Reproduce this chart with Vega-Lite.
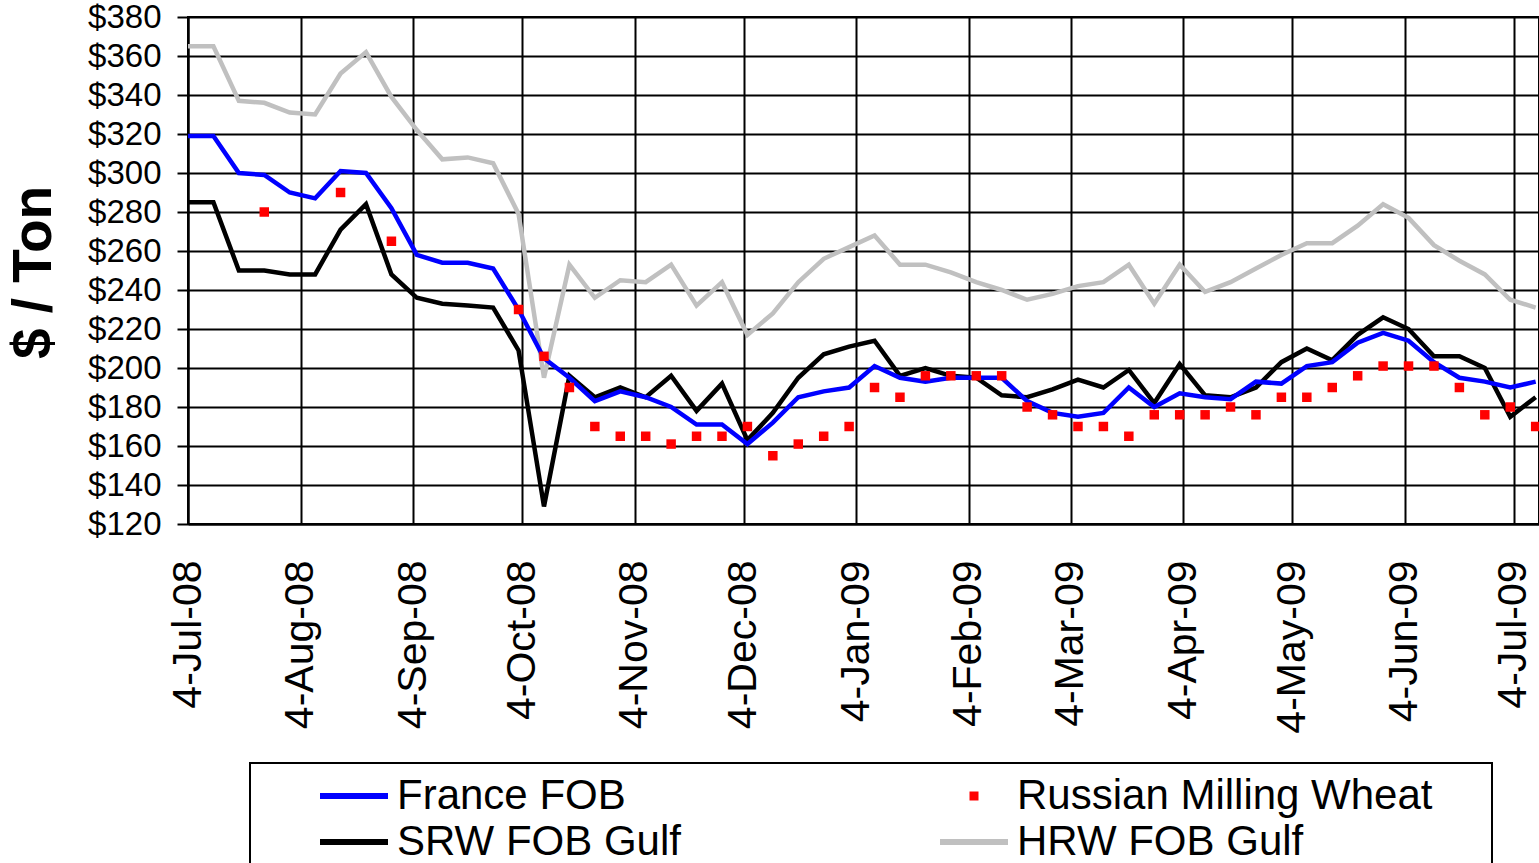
{
  "$schema": "https://vega.github.io/schema/vega-lite/v6.json",
  "width": 1351,
  "height": 507,
  "autosize": {"type": "none"},
  "padding": {"left": 188, "top": 17, "right": 0, "bottom": 339},
  "background": "white",
  "config": {
    "font": "Liberation Sans",
    "view": {"stroke": "black", "strokeWidth": 2}
  },
  "data": {
    "values": [
      {"date": "2008-07-04", "series": "HRW FOB Gulf", "price": 365},
      {"date": "2008-07-11", "series": "HRW FOB Gulf", "price": 365},
      {"date": "2008-07-18", "series": "HRW FOB Gulf", "price": 337},
      {"date": "2008-07-25", "series": "HRW FOB Gulf", "price": 336},
      {"date": "2008-08-01", "series": "HRW FOB Gulf", "price": 331},
      {"date": "2008-08-08", "series": "HRW FOB Gulf", "price": 330},
      {"date": "2008-08-15", "series": "HRW FOB Gulf", "price": 351},
      {"date": "2008-08-22", "series": "HRW FOB Gulf", "price": 362},
      {"date": "2008-08-29", "series": "HRW FOB Gulf", "price": 339},
      {"date": "2008-09-05", "series": "HRW FOB Gulf", "price": 322},
      {"date": "2008-09-12", "series": "HRW FOB Gulf", "price": 307},
      {"date": "2008-09-19", "series": "HRW FOB Gulf", "price": 308},
      {"date": "2008-09-26", "series": "HRW FOB Gulf", "price": 305},
      {"date": "2008-10-03", "series": "HRW FOB Gulf", "price": 279},
      {"date": "2008-10-10", "series": "HRW FOB Gulf", "price": 195},
      {"date": "2008-10-17", "series": "HRW FOB Gulf", "price": 253},
      {"date": "2008-10-24", "series": "HRW FOB Gulf", "price": 236},
      {"date": "2008-10-31", "series": "HRW FOB Gulf", "price": 245},
      {"date": "2008-11-07", "series": "HRW FOB Gulf", "price": 244},
      {"date": "2008-11-14", "series": "HRW FOB Gulf", "price": 253},
      {"date": "2008-11-21", "series": "HRW FOB Gulf", "price": 232},
      {"date": "2008-11-28", "series": "HRW FOB Gulf", "price": 244},
      {"date": "2008-12-05", "series": "HRW FOB Gulf", "price": 217},
      {"date": "2008-12-12", "series": "HRW FOB Gulf", "price": 228},
      {"date": "2008-12-19", "series": "HRW FOB Gulf", "price": 244},
      {"date": "2008-12-26", "series": "HRW FOB Gulf", "price": 256},
      {"date": "2009-01-02", "series": "HRW FOB Gulf", "price": 262},
      {"date": "2009-01-09", "series": "HRW FOB Gulf", "price": 268},
      {"date": "2009-01-16", "series": "HRW FOB Gulf", "price": 253},
      {"date": "2009-01-23", "series": "HRW FOB Gulf", "price": 253},
      {"date": "2009-01-30", "series": "HRW FOB Gulf", "price": 249},
      {"date": "2009-02-06", "series": "HRW FOB Gulf", "price": 244},
      {"date": "2009-02-13", "series": "HRW FOB Gulf", "price": 240},
      {"date": "2009-02-20", "series": "HRW FOB Gulf", "price": 235},
      {"date": "2009-02-27", "series": "HRW FOB Gulf", "price": 238},
      {"date": "2009-03-06", "series": "HRW FOB Gulf", "price": 242},
      {"date": "2009-03-13", "series": "HRW FOB Gulf", "price": 244},
      {"date": "2009-03-20", "series": "HRW FOB Gulf", "price": 253},
      {"date": "2009-03-27", "series": "HRW FOB Gulf", "price": 233},
      {"date": "2009-04-03", "series": "HRW FOB Gulf", "price": 253},
      {"date": "2009-04-10", "series": "HRW FOB Gulf", "price": 239},
      {"date": "2009-04-17", "series": "HRW FOB Gulf", "price": 244},
      {"date": "2009-04-24", "series": "HRW FOB Gulf", "price": 251},
      {"date": "2009-05-01", "series": "HRW FOB Gulf", "price": 258},
      {"date": "2009-05-08", "series": "HRW FOB Gulf", "price": 264},
      {"date": "2009-05-15", "series": "HRW FOB Gulf", "price": 264},
      {"date": "2009-05-22", "series": "HRW FOB Gulf", "price": 273},
      {"date": "2009-05-29", "series": "HRW FOB Gulf", "price": 284},
      {"date": "2009-06-05", "series": "HRW FOB Gulf", "price": 277},
      {"date": "2009-06-12", "series": "HRW FOB Gulf", "price": 263},
      {"date": "2009-06-19", "series": "HRW FOB Gulf", "price": 255},
      {"date": "2009-06-26", "series": "HRW FOB Gulf", "price": 248},
      {"date": "2009-07-03", "series": "HRW FOB Gulf", "price": 235},
      {"date": "2009-07-10", "series": "HRW FOB Gulf", "price": 231},

      {"date": "2008-07-04", "series": "SRW FOB Gulf", "price": 285},
      {"date": "2008-07-11", "series": "SRW FOB Gulf", "price": 285},
      {"date": "2008-07-18", "series": "SRW FOB Gulf", "price": 250},
      {"date": "2008-07-25", "series": "SRW FOB Gulf", "price": 250},
      {"date": "2008-08-01", "series": "SRW FOB Gulf", "price": 248},
      {"date": "2008-08-08", "series": "SRW FOB Gulf", "price": 248},
      {"date": "2008-08-15", "series": "SRW FOB Gulf", "price": 271},
      {"date": "2008-08-22", "series": "SRW FOB Gulf", "price": 284},
      {"date": "2008-08-29", "series": "SRW FOB Gulf", "price": 248},
      {"date": "2008-09-05", "series": "SRW FOB Gulf", "price": 236},
      {"date": "2008-09-12", "series": "SRW FOB Gulf", "price": 233},
      {"date": "2008-09-19", "series": "SRW FOB Gulf", "price": 232},
      {"date": "2008-09-26", "series": "SRW FOB Gulf", "price": 231},
      {"date": "2008-10-03", "series": "SRW FOB Gulf", "price": 209},
      {"date": "2008-10-10", "series": "SRW FOB Gulf", "price": 129},
      {"date": "2008-10-17", "series": "SRW FOB Gulf", "price": 196},
      {"date": "2008-10-24", "series": "SRW FOB Gulf", "price": 185},
      {"date": "2008-10-31", "series": "SRW FOB Gulf", "price": 190},
      {"date": "2008-11-07", "series": "SRW FOB Gulf", "price": 185},
      {"date": "2008-11-14", "series": "SRW FOB Gulf", "price": 196},
      {"date": "2008-11-21", "series": "SRW FOB Gulf", "price": 178},
      {"date": "2008-11-28", "series": "SRW FOB Gulf", "price": 192},
      {"date": "2008-12-05", "series": "SRW FOB Gulf", "price": 163},
      {"date": "2008-12-12", "series": "SRW FOB Gulf", "price": 177},
      {"date": "2008-12-19", "series": "SRW FOB Gulf", "price": 195},
      {"date": "2008-12-26", "series": "SRW FOB Gulf", "price": 207},
      {"date": "2009-01-02", "series": "SRW FOB Gulf", "price": 211},
      {"date": "2009-01-09", "series": "SRW FOB Gulf", "price": 214},
      {"date": "2009-01-16", "series": "SRW FOB Gulf", "price": 196},
      {"date": "2009-01-23", "series": "SRW FOB Gulf", "price": 200},
      {"date": "2009-01-30", "series": "SRW FOB Gulf", "price": 196},
      {"date": "2009-02-06", "series": "SRW FOB Gulf", "price": 195},
      {"date": "2009-02-13", "series": "SRW FOB Gulf", "price": 186},
      {"date": "2009-02-20", "series": "SRW FOB Gulf", "price": 185},
      {"date": "2009-02-27", "series": "SRW FOB Gulf", "price": 189},
      {"date": "2009-03-06", "series": "SRW FOB Gulf", "price": 194},
      {"date": "2009-03-13", "series": "SRW FOB Gulf", "price": 190},
      {"date": "2009-03-20", "series": "SRW FOB Gulf", "price": 199},
      {"date": "2009-03-27", "series": "SRW FOB Gulf", "price": 182},
      {"date": "2009-04-03", "series": "SRW FOB Gulf", "price": 202},
      {"date": "2009-04-10", "series": "SRW FOB Gulf", "price": 186},
      {"date": "2009-04-17", "series": "SRW FOB Gulf", "price": 185},
      {"date": "2009-04-24", "series": "SRW FOB Gulf", "price": 190},
      {"date": "2009-05-01", "series": "SRW FOB Gulf", "price": 203},
      {"date": "2009-05-08", "series": "SRW FOB Gulf", "price": 210},
      {"date": "2009-05-15", "series": "SRW FOB Gulf", "price": 204},
      {"date": "2009-05-22", "series": "SRW FOB Gulf", "price": 217},
      {"date": "2009-05-29", "series": "SRW FOB Gulf", "price": 226},
      {"date": "2009-06-05", "series": "SRW FOB Gulf", "price": 220},
      {"date": "2009-06-12", "series": "SRW FOB Gulf", "price": 206},
      {"date": "2009-06-19", "series": "SRW FOB Gulf", "price": 206},
      {"date": "2009-06-26", "series": "SRW FOB Gulf", "price": 200},
      {"date": "2009-07-03", "series": "SRW FOB Gulf", "price": 175},
      {"date": "2009-07-10", "series": "SRW FOB Gulf", "price": 185},

      {"date": "2008-07-04", "series": "France FOB", "price": 319},
      {"date": "2008-07-11", "series": "France FOB", "price": 319},
      {"date": "2008-07-18", "series": "France FOB", "price": 300},
      {"date": "2008-07-25", "series": "France FOB", "price": 299},
      {"date": "2008-08-01", "series": "France FOB", "price": 290},
      {"date": "2008-08-08", "series": "France FOB", "price": 287},
      {"date": "2008-08-15", "series": "France FOB", "price": 301},
      {"date": "2008-08-22", "series": "France FOB", "price": 300},
      {"date": "2008-08-29", "series": "France FOB", "price": 282},
      {"date": "2008-09-05", "series": "France FOB", "price": 258},
      {"date": "2008-09-12", "series": "France FOB", "price": 254},
      {"date": "2008-09-19", "series": "France FOB", "price": 254},
      {"date": "2008-09-26", "series": "France FOB", "price": 251},
      {"date": "2008-10-03", "series": "France FOB", "price": 230},
      {"date": "2008-10-10", "series": "France FOB", "price": 205},
      {"date": "2008-10-17", "series": "France FOB", "price": 195},
      {"date": "2008-10-24", "series": "France FOB", "price": 183},
      {"date": "2008-10-31", "series": "France FOB", "price": 188},
      {"date": "2008-11-07", "series": "France FOB", "price": 185},
      {"date": "2008-11-14", "series": "France FOB", "price": 180},
      {"date": "2008-11-21", "series": "France FOB", "price": 171},
      {"date": "2008-11-28", "series": "France FOB", "price": 171},
      {"date": "2008-12-05", "series": "France FOB", "price": 161},
      {"date": "2008-12-12", "series": "France FOB", "price": 172},
      {"date": "2008-12-19", "series": "France FOB", "price": 185},
      {"date": "2008-12-26", "series": "France FOB", "price": 188},
      {"date": "2009-01-02", "series": "France FOB", "price": 190},
      {"date": "2009-01-09", "series": "France FOB", "price": 201},
      {"date": "2009-01-16", "series": "France FOB", "price": 195},
      {"date": "2009-01-23", "series": "France FOB", "price": 193},
      {"date": "2009-01-30", "series": "France FOB", "price": 195},
      {"date": "2009-02-06", "series": "France FOB", "price": 195},
      {"date": "2009-02-13", "series": "France FOB", "price": 195},
      {"date": "2009-02-20", "series": "France FOB", "price": 183},
      {"date": "2009-02-27", "series": "France FOB", "price": 177},
      {"date": "2009-03-06", "series": "France FOB", "price": 175},
      {"date": "2009-03-13", "series": "France FOB", "price": 177},
      {"date": "2009-03-20", "series": "France FOB", "price": 190},
      {"date": "2009-03-27", "series": "France FOB", "price": 180},
      {"date": "2009-04-03", "series": "France FOB", "price": 187},
      {"date": "2009-04-10", "series": "France FOB", "price": 185},
      {"date": "2009-04-17", "series": "France FOB", "price": 184},
      {"date": "2009-04-24", "series": "France FOB", "price": 193},
      {"date": "2009-05-01", "series": "France FOB", "price": 192},
      {"date": "2009-05-08", "series": "France FOB", "price": 201},
      {"date": "2009-05-15", "series": "France FOB", "price": 203},
      {"date": "2009-05-22", "series": "France FOB", "price": 213},
      {"date": "2009-05-29", "series": "France FOB", "price": 218},
      {"date": "2009-06-05", "series": "France FOB", "price": 214},
      {"date": "2009-06-12", "series": "France FOB", "price": 203},
      {"date": "2009-06-19", "series": "France FOB", "price": 195},
      {"date": "2009-06-26", "series": "France FOB", "price": 193},
      {"date": "2009-07-03", "series": "France FOB", "price": 190},
      {"date": "2009-07-10", "series": "France FOB", "price": 193},

      {"date": "2008-07-25", "series": "Russian Milling Wheat", "price": 280},
      {"date": "2008-08-15", "series": "Russian Milling Wheat", "price": 290},
      {"date": "2008-08-29", "series": "Russian Milling Wheat", "price": 265},
      {"date": "2008-10-03", "series": "Russian Milling Wheat", "price": 230},
      {"date": "2008-10-10", "series": "Russian Milling Wheat", "price": 206},
      {"date": "2008-10-17", "series": "Russian Milling Wheat", "price": 190},
      {"date": "2008-10-24", "series": "Russian Milling Wheat", "price": 170},
      {"date": "2008-10-31", "series": "Russian Milling Wheat", "price": 165},
      {"date": "2008-11-07", "series": "Russian Milling Wheat", "price": 165},
      {"date": "2008-11-14", "series": "Russian Milling Wheat", "price": 161},
      {"date": "2008-11-21", "series": "Russian Milling Wheat", "price": 165},
      {"date": "2008-11-28", "series": "Russian Milling Wheat", "price": 165},
      {"date": "2008-12-05", "series": "Russian Milling Wheat", "price": 170},
      {"date": "2008-12-12", "series": "Russian Milling Wheat", "price": 155},
      {"date": "2008-12-19", "series": "Russian Milling Wheat", "price": 161},
      {"date": "2008-12-26", "series": "Russian Milling Wheat", "price": 165},
      {"date": "2009-01-02", "series": "Russian Milling Wheat", "price": 170},
      {"date": "2009-01-09", "series": "Russian Milling Wheat", "price": 190},
      {"date": "2009-01-16", "series": "Russian Milling Wheat", "price": 185},
      {"date": "2009-01-23", "series": "Russian Milling Wheat", "price": 196},
      {"date": "2009-01-30", "series": "Russian Milling Wheat", "price": 196},
      {"date": "2009-02-06", "series": "Russian Milling Wheat", "price": 196},
      {"date": "2009-02-13", "series": "Russian Milling Wheat", "price": 196},
      {"date": "2009-02-20", "series": "Russian Milling Wheat", "price": 180},
      {"date": "2009-02-27", "series": "Russian Milling Wheat", "price": 176},
      {"date": "2009-03-06", "series": "Russian Milling Wheat", "price": 170},
      {"date": "2009-03-13", "series": "Russian Milling Wheat", "price": 170},
      {"date": "2009-03-20", "series": "Russian Milling Wheat", "price": 165},
      {"date": "2009-03-27", "series": "Russian Milling Wheat", "price": 176},
      {"date": "2009-04-03", "series": "Russian Milling Wheat", "price": 176},
      {"date": "2009-04-10", "series": "Russian Milling Wheat", "price": 176},
      {"date": "2009-04-17", "series": "Russian Milling Wheat", "price": 180},
      {"date": "2009-04-24", "series": "Russian Milling Wheat", "price": 176},
      {"date": "2009-05-01", "series": "Russian Milling Wheat", "price": 185},
      {"date": "2009-05-08", "series": "Russian Milling Wheat", "price": 185},
      {"date": "2009-05-15", "series": "Russian Milling Wheat", "price": 190},
      {"date": "2009-05-22", "series": "Russian Milling Wheat", "price": 196},
      {"date": "2009-05-29", "series": "Russian Milling Wheat", "price": 201},
      {"date": "2009-06-05", "series": "Russian Milling Wheat", "price": 201},
      {"date": "2009-06-12", "series": "Russian Milling Wheat", "price": 201},
      {"date": "2009-06-19", "series": "Russian Milling Wheat", "price": 190},
      {"date": "2009-06-26", "series": "Russian Milling Wheat", "price": 176},
      {"date": "2009-07-03", "series": "Russian Milling Wheat", "price": 180},
      {"date": "2009-07-10", "series": "Russian Milling Wheat", "price": 170}
    ]
  },
  "encoding": {
    "x": {
      "field": "date",
      "type": "temporal",
      "scale": {
        "type": "utc",
        "domain": [
          {"year": 2008, "month": 7, "date": 4, "utc": true},
          {"year": 2009, "month": 7, "date": 10, "hours": 22, "utc": true}
        ]
      },
      "axis": {
        "title": null,
        "values": [
          {"year": 2008, "month": 7, "date": 4, "utc": true},
          {"year": 2008, "month": 8, "date": 4, "utc": true},
          {"year": 2008, "month": 9, "date": 4, "utc": true},
          {"year": 2008, "month": 10, "date": 4, "utc": true},
          {"year": 2008, "month": 11, "date": 4, "utc": true},
          {"year": 2008, "month": 12, "date": 4, "utc": true},
          {"year": 2009, "month": 1, "date": 4, "utc": true},
          {"year": 2009, "month": 2, "date": 4, "utc": true},
          {"year": 2009, "month": 3, "date": 4, "utc": true},
          {"year": 2009, "month": 4, "date": 4, "utc": true},
          {"year": 2009, "month": 5, "date": 4, "utc": true},
          {"year": 2009, "month": 6, "date": 4, "utc": true},
          {"year": 2009, "month": 7, "date": 4, "utc": true}
        ],
        "format": "%-d-%b-%y",
        "labelAngle": -90,
        "labelAlign": "right",
        "labelBaseline": "middle",
        "labelFontSize": 41,
        "labelColor": "black",
        "labelPadding": 36,
        "labelFlush": false,
        "labelOverlap": false,
        "labelBound": false,
        "ticks": false,
        "domainColor": "black",
        "domainWidth": 2,
        "grid": true,
        "gridColor": "black",
        "gridWidth": 2,
        "gridOpacity": 1
      }
    },
    "y": {
      "field": "price",
      "type": "quantitative",
      "scale": {"domain": [120, 380], "nice": false, "zero": false},
      "axis": {
        "values": [120, 140, 160, 180, 200, 220, 240, 260, 280, 300, 320, 340, 360, 380],
        "format": "$d",
        "labelFontSize": 33,
        "labelColor": "black",
        "labelPadding": 16,
        "labelBaseline": "middle",
        "labelFlush": false,
        "labelOverlap": false,
        "labelBound": false,
        "tickSize": 11,
        "tickColor": "black",
        "tickWidth": 2,
        "domainColor": "black",
        "domainWidth": 2,
        "grid": true,
        "gridColor": "black",
        "gridWidth": 2,
        "gridOpacity": 1,
        "title": "$ / Ton",
        "titleFontSize": 55,
        "titleFontWeight": "bold",
        "titleColor": "black",
        "titleAngle": -90,
        "titleAlign": "center",
        "titleBaseline": "alphabetic",
        "titleX": -138,
        "titleY": 255
      }
    },
    "color": {
      "field": "series",
      "type": "nominal",
      "scale": {
        "domain": ["France FOB", "Russian Milling Wheat", "SRW FOB Gulf", "HRW FOB Gulf"],
        "range": ["#0000ff", "#ff0000", "#000000", "#c0c0c0"]
      },
      "legend": {
        "orient": "none",
        "legendX": 62,
        "legendY": 746,
        "columns": 2,
        "direction": "horizontal",
        "title": "\u00a0",
        "titleOrient": "left",
        "titleFontSize": 4,
        "titlePadding": 71,
        "padding": 12,
        "strokeColor": "black",
        "labelFontSize": 42,
        "labelColor": "black",
        "labelFont": "Liberation Sans",
        "labelOffset": 22,
        "labelLimit": 1000,
        "labelExpr": "datum.label === 'Russian Milling Wheat' ? datum.label + '\u00a0\u00a0\u00a0\u00a0\u200b' : datum.label",
        "symbolType": "stroke",
        "symbolSize": 4624,
        "symbolStrokeWidth": 6,
        "columnPadding": 247,
        "rowPadding": 4,
        "encode": {
          "legend": {"update": {"strokeWidth": {"value": 2}}},
          "symbols": {
            "update": {
              "shape": {"signal": "datum.value === 'Russian Milling Wheat' ? 'square' : 'stroke'"},
              "size": {"signal": "datum.value === 'Russian Milling Wheat' ? 81 : 4624"},
              "strokeWidth": {"signal": "datum.value === 'Russian Milling Wheat' ? 0 : 6"},
              "fill": {"signal": "datum.value === 'Russian Milling Wheat' ? '#ff0000' : 'transparent'"},
              "stroke": {"scale": "color", "field": "value"},
              "opacity": {"value": 1}
            }
          }
        }
      }
    }
  },
  "layer": [
    {
      "transform": [{"filter": "datum.series === 'HRW FOB Gulf'"}],
      "mark": {"type": "line", "strokeWidth": 4.5}
    },
    {
      "transform": [{"filter": "datum.series === 'SRW FOB Gulf'"}],
      "mark": {"type": "line", "strokeWidth": 4.5}
    },
    {
      "transform": [{"filter": "datum.series === 'France FOB'"}],
      "mark": {"type": "line", "strokeWidth": 4.5}
    },
    {
      "transform": [{"filter": "datum.series === 'Russian Milling Wheat'"}],
      "mark": {"type": "point", "shape": "square", "filled": true, "size": 90, "opacity": 1}
    }
  ]
}
